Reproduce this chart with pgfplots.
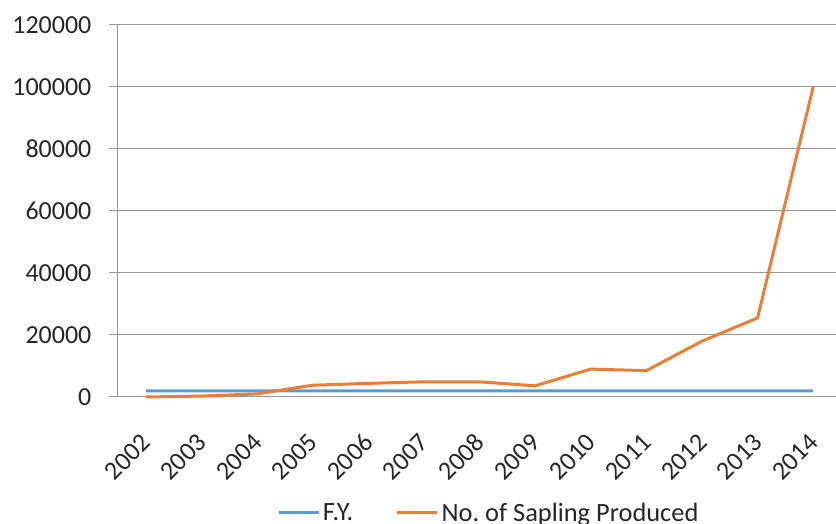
\documentclass[border=0pt]{standalone}
\usepackage{pgfplots}
\pgfplotsset{compat=1.18}
\usepackage{fontspec}
\setmainfont{Carlito}
\definecolor{fyblue}{RGB}{91,155,213}
\definecolor{saporange}{RGB}{237,125,49}
\definecolor{gridgray}{RGB}{150,150,150}
\begin{document}
\begin{tikzpicture}
\begin{axis}[
  at={(0pt,0pt)}, anchor=south west,
  scale only axis,
  width=538.5pt, height=279pt,
  xmin=-0.5, xmax=12.41,
  ymin=0, ymax=120000,
  axis lines*=left,
  axis line style={gridgray, line width=0.75pt},
  ymajorgrids,
  grid style={gridgray, line width=0.75pt},
  ytick={0,20000,40000,60000,80000,100000,120000},
  yticklabels={0,20000,40000,60000,80000,100000,120000},
  xtick={0,...,12},
  xticklabels={2002,2003,2004,2005,2006,2007,2008,2009,2010,2011,2012,2013,2014},
  minor xtick={-0.5,0.5,...,12.5},
  xtick style={draw=none},
  minor x tick style={gridgray, line width=0.75pt},
  ytick style={gridgray, line width=0.75pt},
  tick align=outside,
  major tick length=6.75pt,
  minor tick length=7.5pt,
  scaled y ticks=false,
  ticklabel style={font=\fontsize{19.5}{23}\selectfont, text=black!85},
  yticklabel style={anchor=east, inner sep=0pt, xshift=-13pt},
  xticklabel style={anchor=east, inner sep=0pt, yshift=-24pt, xshift=0.5pt, rotate=45},
  legend style={at={(0.517,0)}, anchor=center, yshift=-87pt, draw=none, fill=none,
    legend columns=-1, font=\fontsize{19.8}{23}\selectfont, text=black!85,
    /tikz/every even column/.append style={column sep=30pt},
    nodes={inner sep=2pt}},
  legend image code/.code={\draw[#1, line width=2.25pt] (0pt,0pt) -- (30pt,0pt);},
  clip=false,
]
\addplot[fyblue, line width=2.25pt] coordinates {
 (0,2002) (1,2003) (2,2004) (3,2005) (4,2006) (5,2007) (6,2008)
 (7,2009) (8,2010) (9,2011) (10,2012) (11,2013) (12,2014)};
\addlegendentry{F.Y.}
\addplot[saporange, line width=2.25pt, line join=round] coordinates {
 (0,0) (1,300) (2,1000) (3,3800) (4,4400) (5,4900) (6,4900)
 (7,3600) (8,9000) (9,8500) (10,18000) (11,25500) (12,100000)};
\addlegendentry{No.\ of Sapling Produced}
\end{axis}
\pgfresetboundingbox
\useasboundingbox (-88.5pt,-95.25pt) rectangle (538.5pt,297.75pt);
\end{tikzpicture}
\end{document}
